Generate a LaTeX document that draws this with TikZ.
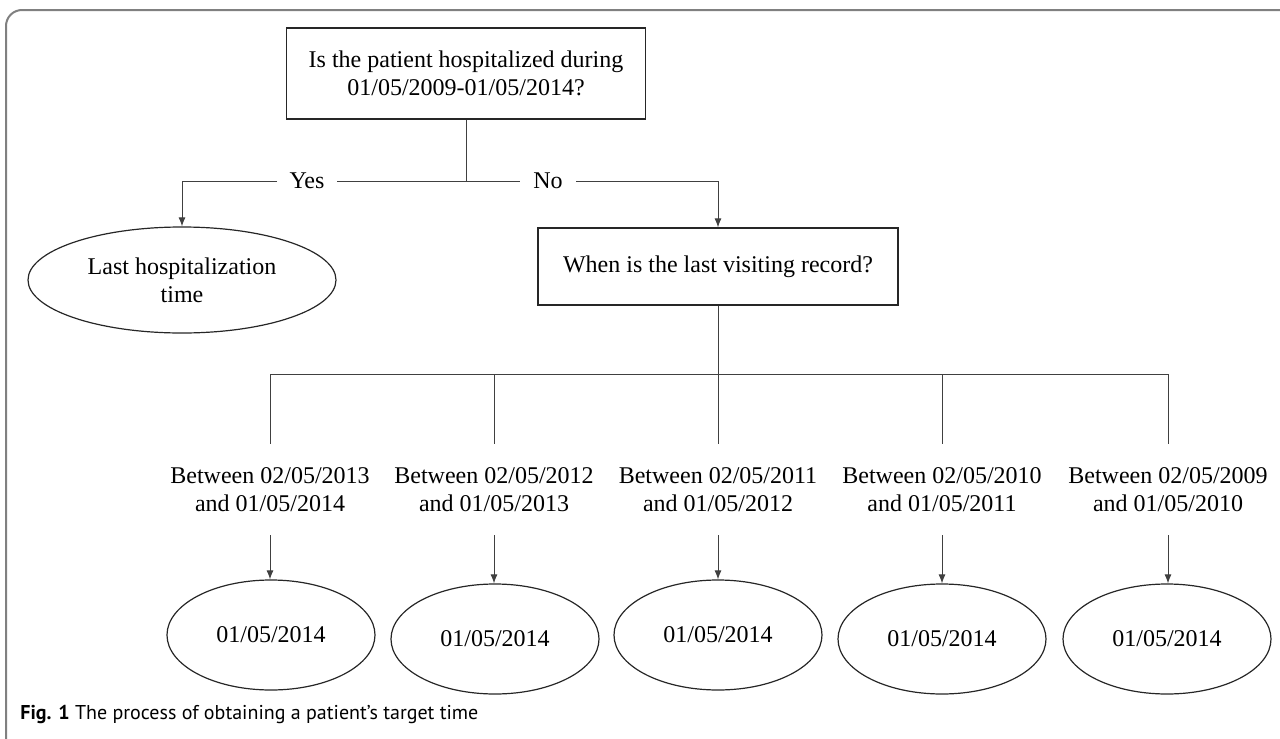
\documentclass[tikz,border=0pt]{standalone}
\usepackage{fontspec}
\setmainfont{Liberation Serif}
\newfontfamily\capfont{PT Sans}
\usetikzlibrary{shapes.geometric,arrows.meta}
\begin{document}
\begin{tikzpicture}[x=0.5pt,y=-0.5pt,
  every node/.style={font=\fontsize{12pt}{14pt}\selectfont},
  qbox/.style={draw=black!85, line width=0.6pt, align=center, inner sep=0pt},
  oval/.style={draw=black!85, line width=0.6pt, ellipse, align=center, inner sep=0pt, minimum width=104pt, minimum height=55pt},
  lbl/.style={align=center, inner sep=0pt, minimum height=45.5pt},
  ln/.style={draw=black!75, line width=0.5pt},
  arr/.style={ln, -{Latex[length=4.5pt,width=3.5pt]}},
]
\useasboundingbox (0,0) rectangle (1280,739);
% frame
\draw[black!50, line width=1pt, rounded corners=8pt] (6,739) -- (6,10) -- (1280,10);

% top question
\node[qbox, minimum width=179.5pt, minimum height=45.5pt] (q1) at (466,73.5)
  {Is the patient hospitalized during\\01/05/2009-01/05/2014?};
\coordinate (split) at (466,181);
\node[inner xsep=6pt, inner ysep=0pt] (yes) at (307,181) {Yes};
\node[inner xsep=6.5pt, inner ysep=0pt] (no) at (548,181) {No};
\node[oval, minimum width=154pt, minimum height=53pt] (hosp) at (182,280)
  {Last hospitalization\\time};
\node[qbox, minimum width=180pt, minimum height=38.5pt] (q2) at (718,266.5)
  {When is the last visiting record?};
\coordinate (bar) at (718,374);

\draw[ln] (q1.south) -- (split);
\draw[ln] (split) -- (yes.east);
\draw[ln] (split) -- (no.west);
\draw[arr] (yes.west) -| (hosp.north);
\draw[arr] (no.east) -| (q2.north);
\draw[ln] (q2.south) -- (bar);

% branches
\node[lbl] (t1) at (270,489.5) {Between 02/05/2013\\and 01/05/2014};
\node[lbl] (t2) at (494,489.5) {Between 02/05/2012\\and 01/05/2013};
\node[lbl] (t3) at (718,489.5) {Between 02/05/2011\\and 01/05/2012};
\node[lbl] (t4) at (942,489.5) {Between 02/05/2010\\and 01/05/2011};
\node[lbl] (t5) at (1168,489.5) {Between 02/05/2009\\and 01/05/2010};

\node[oval] (e1) at (271,635) {01/05/2014};
\node[oval] (e2) at (495,639) {01/05/2014};
\node[oval] (e3) at (718,635) {01/05/2014};
\node[oval] (e4) at (942,639) {01/05/2014};
\node[oval] (e5) at (1167,639) {01/05/2014};

\draw[ln] (t1.north |- bar) -- (t5.north |- bar);
\foreach \i in {1,...,5} {
  \draw[ln] (t\i.north |- bar) -- (t\i.north);
  \draw[arr] (t\i.south) -- (e\i.north -| t\i.south);
}

% caption
\node[anchor=west, inner sep=0pt, font=\capfont\fontsize{10pt}{12pt}\selectfont] (cap) at (20,714)
  {\textbf{Fig. 1} The process of obtaining a patient’s target time};
\end{tikzpicture}
\end{document}
